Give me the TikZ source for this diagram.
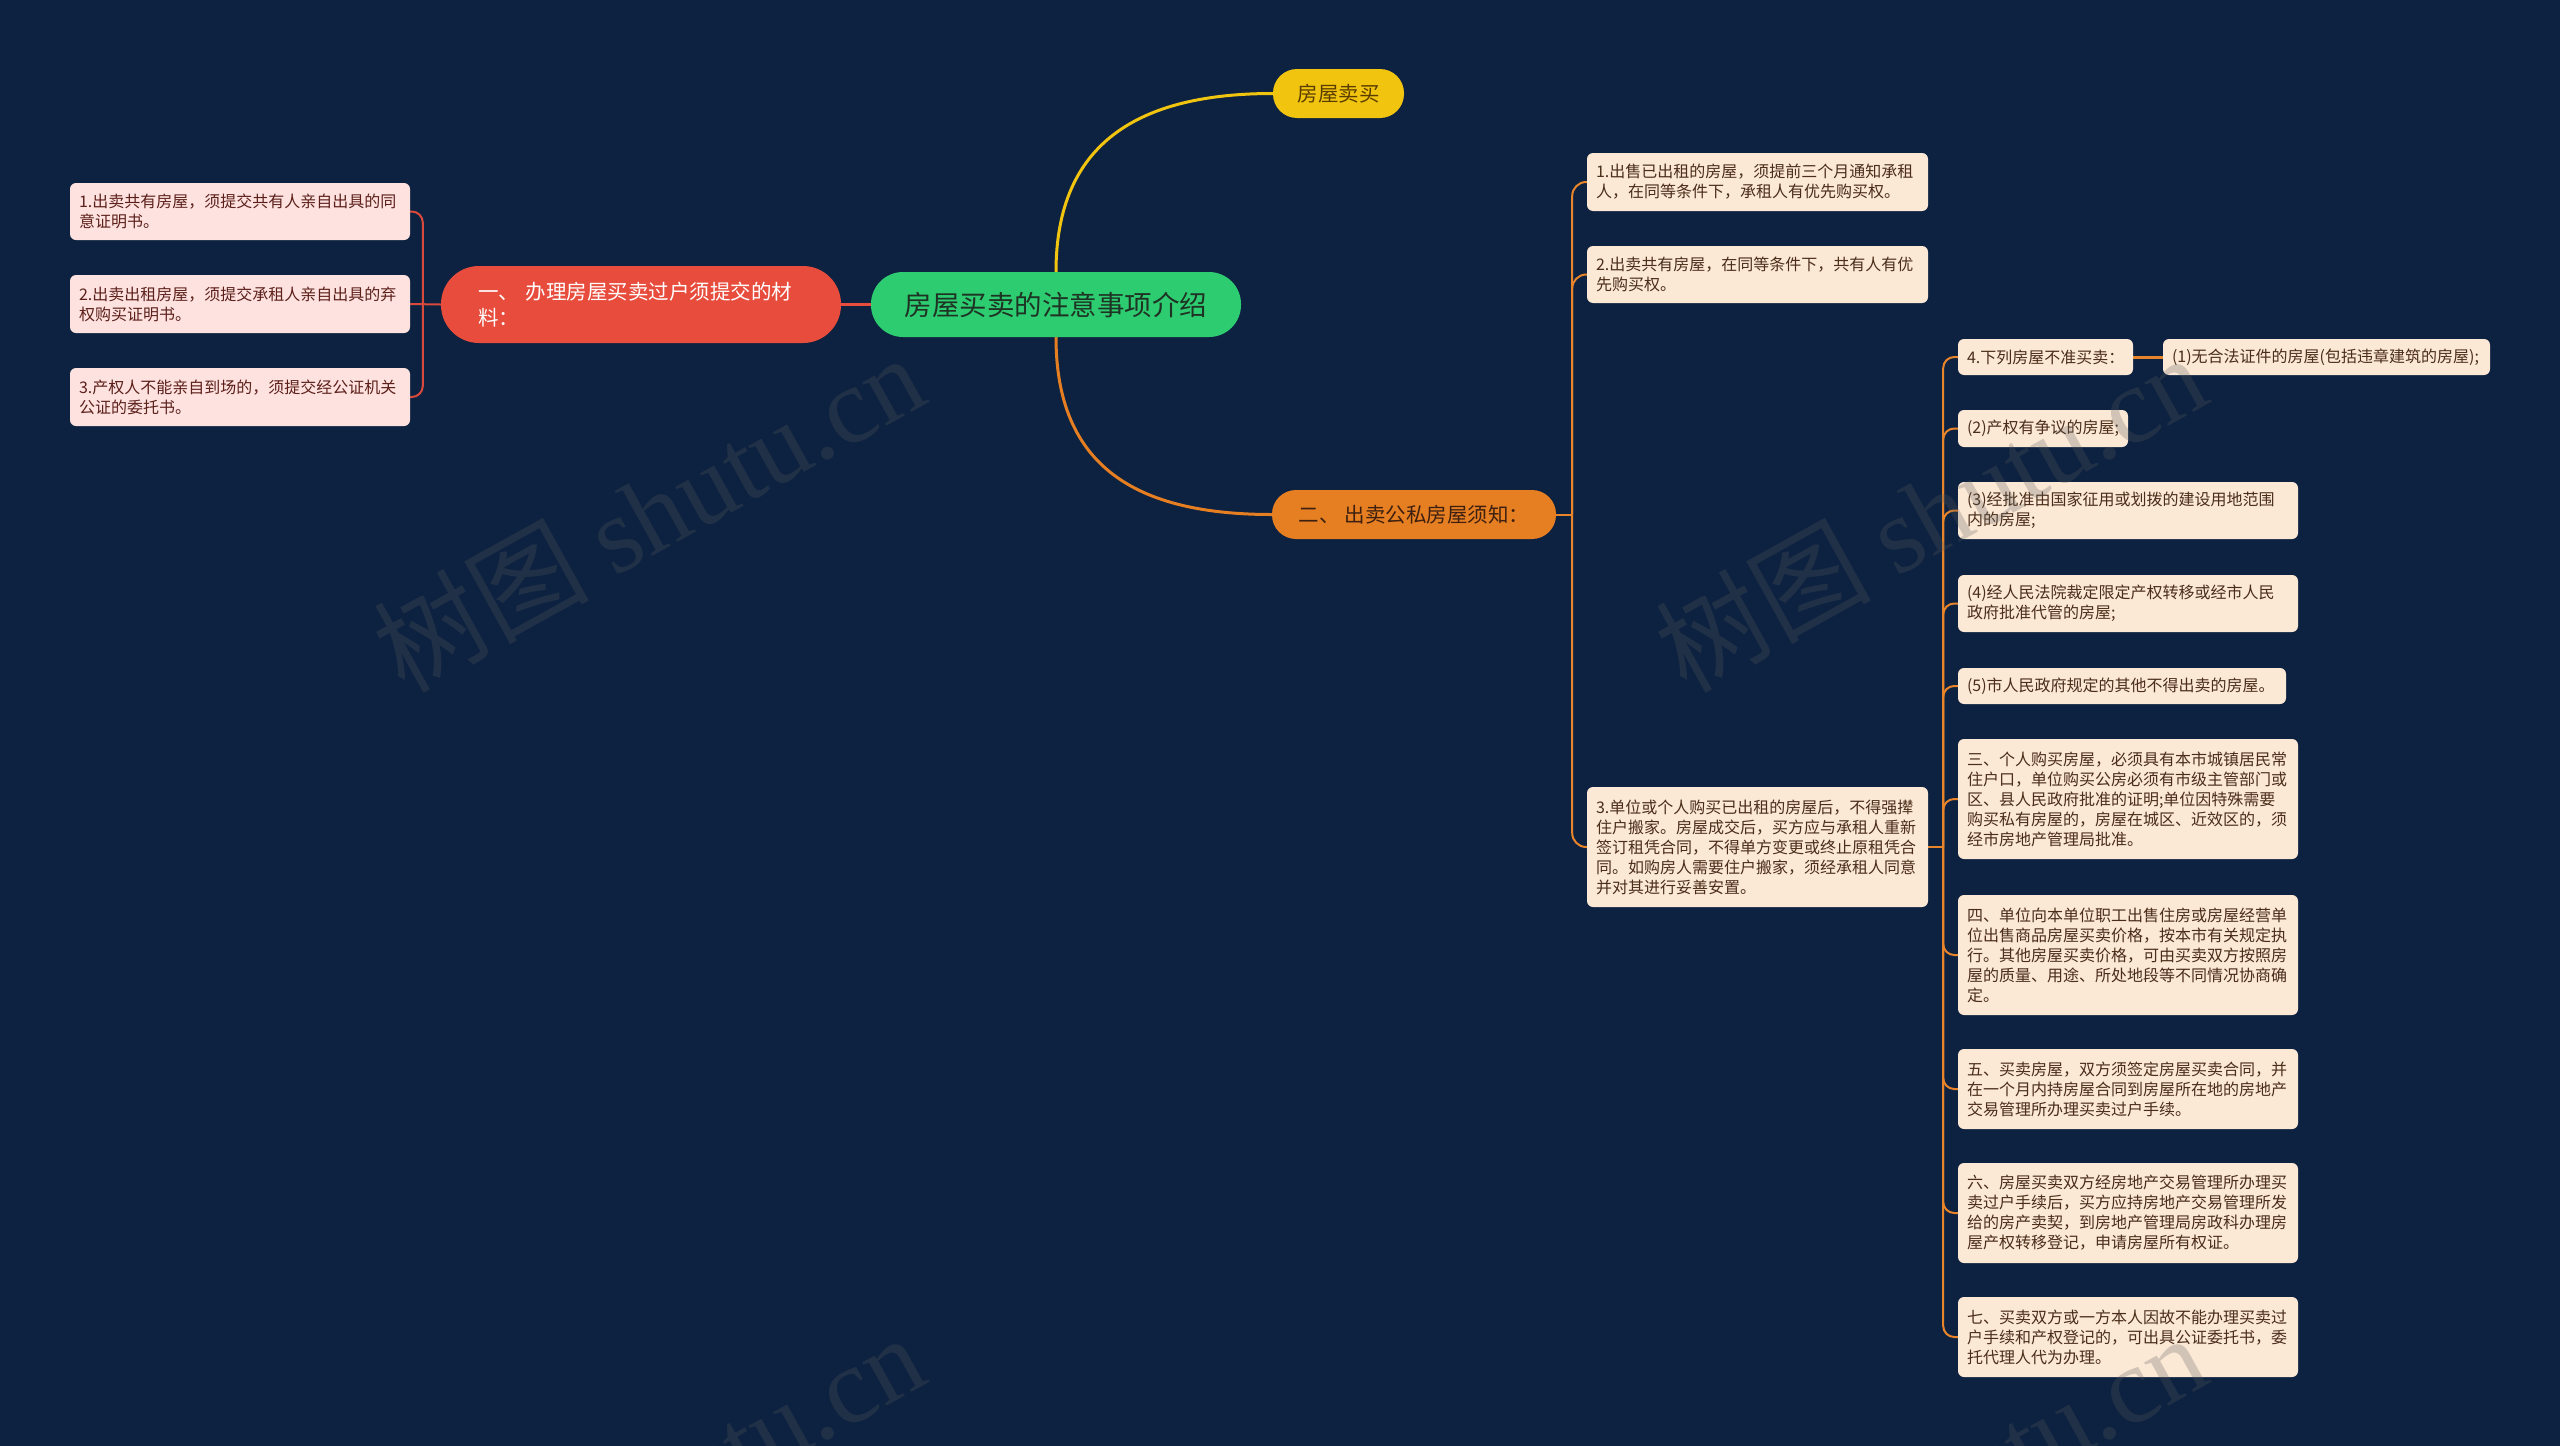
\documentclass[tikz,border=0pt]{standalone}
\usepackage{fontspec}
\newfontfamily\cjk{Noto Sans CJK SC}
\newfontfamily\wmserif{Liberation Serif}
\usetikzlibrary{calc}
\pgfdeclarelayer{bgfill}
\pgfdeclarelayer{lines}
\pgfdeclarelayer{wm}
\pgfsetlayers{bgfill,lines,main,wm}
\definecolor{bgnavy}{HTML}{0D2240}
\definecolor{cgreen}{HTML}{2ECC71}
\definecolor{ctext}{HTML}{1E3324}
\definecolor{cyellow}{HTML}{F1C40F}
\definecolor{ytext}{HTML}{5A3D00}
\definecolor{corange}{HTML}{E67E22}
\definecolor{otext}{HTML}{3D2010}
\definecolor{cred}{HTML}{E74C3C}
\definecolor{cpink}{HTML}{FDE2DF}
\definecolor{ltext}{HTML}{5C1F1A}
\definecolor{cpeach}{HTML}{FBE8D5}
\definecolor{rtext}{HTML}{4A2E1A}
\definecolor{redln}{HTML}{D9493C}
\definecolor{orln}{HTML}{E8852B}
\definecolor{wmgray}{HTML}{5A5A5A}
\begin{document}
\begin{tikzpicture}[x=1pt,y=-1pt,
  pillnode/.style={rectangle, inner sep=0pt, font=\cjk},
  leafbox/.style={rectangle, rounded corners=6pt, inner xsep=9pt, inner ysep=0pt, align=left, font=\cjk\fontsize{16}{20}\selectfont},
  rleaf/.style={leafbox, fill=cpeach, text=rtext},
  lleaf/.style={leafbox, fill=cpink, text=ltext},
  mainline/.style={line width=3pt},
  redleaf/.style={draw=redln, line width=2pt},
  orleaf/.style={draw=orln, line width=2pt},
  wmark/.style={rotate=29, text=wmgray, opacity=0.26, inner sep=0pt}
]
\begin{pgfonlayer}{bgfill}
\fill[bgnavy] (0,0) rectangle (2560,1446);
\end{pgfonlayer}
\useasboundingbox (0,0) rectangle (2560,1446);

% main nodes
\node[pillnode, fill=cgreen, text=ctext, rounded corners=32pt, minimum width=370pt, minimum height=65pt,
  font=\cjk\fontsize{27.5}{33}\selectfont] (M) at (1056,304.5) {房屋买卖的注意事项介绍};
\node[pillnode, fill=cyellow, text=ytext, rounded corners=24pt, minimum width=131pt, minimum height=49pt,
  font=\cjk\fontsize{20.5}{25}\selectfont] (Y) at (1338.5,93.5) {房屋卖买};
\node[pillnode, fill=corange, text=otext, rounded corners=24pt, minimum width=284pt, minimum height=49pt,
  font=\cjk\fontsize{20.5}{25}\selectfont] (O) at (1414,514.5) {二、 出卖公私房屋须知：};
\node[pillnode, fill=cred, text=white, rounded corners=38pt, minimum width=400pt, minimum height=77pt,
  inner xsep=37pt, text width=326pt, align=left,
  font=\cjk\fontsize{20.5}{26}\selectfont] (R) at (641,304.5) {一、 办理房屋买卖过户须提交的材\\料：};

% left leaves
\node[lleaf, minimum width=340pt, minimum height=57pt, text width=322pt] (L1) at (240,211.5)
  {1.出卖共有房屋，须提交共有人亲自出具的同\\意证明书。};
\node[lleaf, minimum width=340pt, minimum height=58pt, text width=322pt] (L2) at (240,304)
  {2.出卖出租房屋，须提交承租人亲自出具的弃\\权购买证明书。};
\node[lleaf, minimum width=340pt, minimum height=58pt, text width=322pt] (L3) at (240,397)
  {3.产权人不能亲自到场的，须提交经公证机关\\公证的委托书。};

% right first level
\node[rleaf, minimum width=341pt, minimum height=58pt, text width=323pt] (A) at (1757.5,182)
  {1.出售已出租的房屋，须提前三个月通知承租\\人，在同等条件下，承租人有优先购买权。};
\node[rleaf, minimum width=341pt, minimum height=57pt, text width=323pt] (B) at (1757.5,274.5)
  {2.出卖共有房屋，在同等条件下，共有人有优\\先购买权。};
\node[rleaf, minimum width=341pt, minimum height=120pt, text width=323pt] (C) at (1757.5,847)
  {3.单位或个人购买已出租的房屋后，不得强撵\\住户搬家。房屋成交后，买方应与承租人重新\\签订租凭合同，不得单方变更或终止原租凭合\\同。如购房人需要住户搬家，须经承租人同意\\并对其进行妥善安置。};

% right second level
\node[rleaf, minimum width=175pt, minimum height=36pt, text width=157pt] (n4) at (2045.5,357)
  {4.下列房屋不准买卖：};
\node[rleaf, minimum width=327pt, minimum height=36pt, text width=309pt] (n41) at (2326.5,357)
  {(1)无合法证件的房屋(包括违章建筑的房屋);};
\node[rleaf, minimum width=170pt, minimum height=37pt, text width=152pt] (n2) at (2043,428.5)
  {(2)产权有争议的房屋;};
\node[rleaf, minimum width=340pt, minimum height=57pt, text width=322pt] (n3) at (2128,510.5)
  {(3)经批准由国家征用或划拨的建设用地范围\\内的房屋;};
\node[rleaf, minimum width=340pt, minimum height=57pt, text width=322pt] (n4b) at (2128,603.5)
  {(4)经人民法院裁定限定产权转移或经市人民\\政府批准代管的房屋;};
\node[rleaf, minimum width=328pt, minimum height=36pt, text width=310pt] (n5) at (2122,686)
  {(5)市人民政府规定的其他不得出卖的房屋。};
\node[rleaf, minimum width=340pt, minimum height=120pt, text width=322pt] (s3) at (2128,799)
  {三、个人购买房屋，必须具有本市城镇居民常\\住户口，单位购买公房必须有市级主管部门或\\区、县人民政府批准的证明;单位因特殊需要\\购买私有房屋的，房屋在城区、近效区的，须\\经市房地产管理局批准。};
\node[rleaf, minimum width=340pt, minimum height=120pt, text width=322pt] (s4) at (2128,955)
  {四、单位向本单位职工出售住房或房屋经营单\\位出售商品房屋买卖价格，按本市有关规定执\\行。其他房屋买卖价格，可由买卖双方按照房\\屋的质量、用途、所处地段等不同情况协商确\\定。};
\node[rleaf, minimum width=340pt, minimum height=80pt, text width=322pt] (s5) at (2128,1089)
  {五、买卖房屋，双方须签定房屋买卖合同，并\\在一个月内持房屋合同到房屋所在地的房地产\\交易管理所办理买卖过户手续。};
\node[rleaf, minimum width=340pt, minimum height=100pt, text width=322pt] (s6) at (2128,1213)
  {六、房屋买卖双方经房地产交易管理所办理买\\卖过户手续后，买方应持房地产交易管理所发\\给的房产卖契，到房地产管理局房政科办理房\\屋产权转移登记，申请房屋所有权证。};
\node[rleaf, minimum width=340pt, minimum height=80pt, text width=322pt] (s7) at (2128,1337)
  {七、买卖双方或一方本人因故不能办理买卖过\\户手续和产权登记的，可出具公证委托书，委\\托代理人代为办理。};

% connectors
\begin{pgfonlayer}{lines}
\draw[mainline, draw=cred] (R.east) -- (M.west);
\draw[mainline, draw=cyellow] (M.north) .. controls +(0,-130) and +(-133,0) .. (Y.west);
\draw[mainline, draw=corange] (M.south) .. controls +(0,130) and +(-135,0) .. (O.west);

\draw[redleaf] (R.west) -- (L2.east);
\draw[redleaf, rounded corners=11pt] ($(R.west)+(-18,0)$) |- (L1.east);
\draw[redleaf, rounded corners=11pt] ($(R.west)+(-18,0)$) |- (L3.east);

\draw[orleaf] (O.east) -- ++(16,0);
\foreach \c in {A,B,C}
  \draw[orleaf, rounded corners=14pt] ($(O.east)+(16,0)$) |- (\c.west);

\draw[orleaf] (C.east) -- ++(15,0);
\foreach \c in {n4,n2,n3,n4b,n5,s3,s4,s5,s6,s7}
  \draw[orleaf, rounded corners=11pt] ($(C.east)+(15,0)$) |- (\c.west);
\draw[orleaf, line width=3pt] (n4.east) -- (n41.west);
\end{pgfonlayer}

% watermarks
\begin{pgfonlayer}{wm}
\clip (0,0) rectangle (2560,1446);
\node[wmark] (w1) at (648,512) {\cjk\fontsize{108}{112}\selectfont 树图 \wmserif shutu.cn};
\node[wmark] (w2) at (1930,512) {\cjk\fontsize{108}{112}\selectfont 树图 \wmserif shutu.cn};
\node[wmark] (w3) at (648,1492) {\cjk\fontsize{108}{112}\selectfont 树图 \wmserif shutu.cn};
\node[wmark] (w4) at (1930,1492) {\cjk\fontsize{108}{112}\selectfont 树图 \wmserif shutu.cn};
\end{pgfonlayer}
\end{tikzpicture}
\end{document}
